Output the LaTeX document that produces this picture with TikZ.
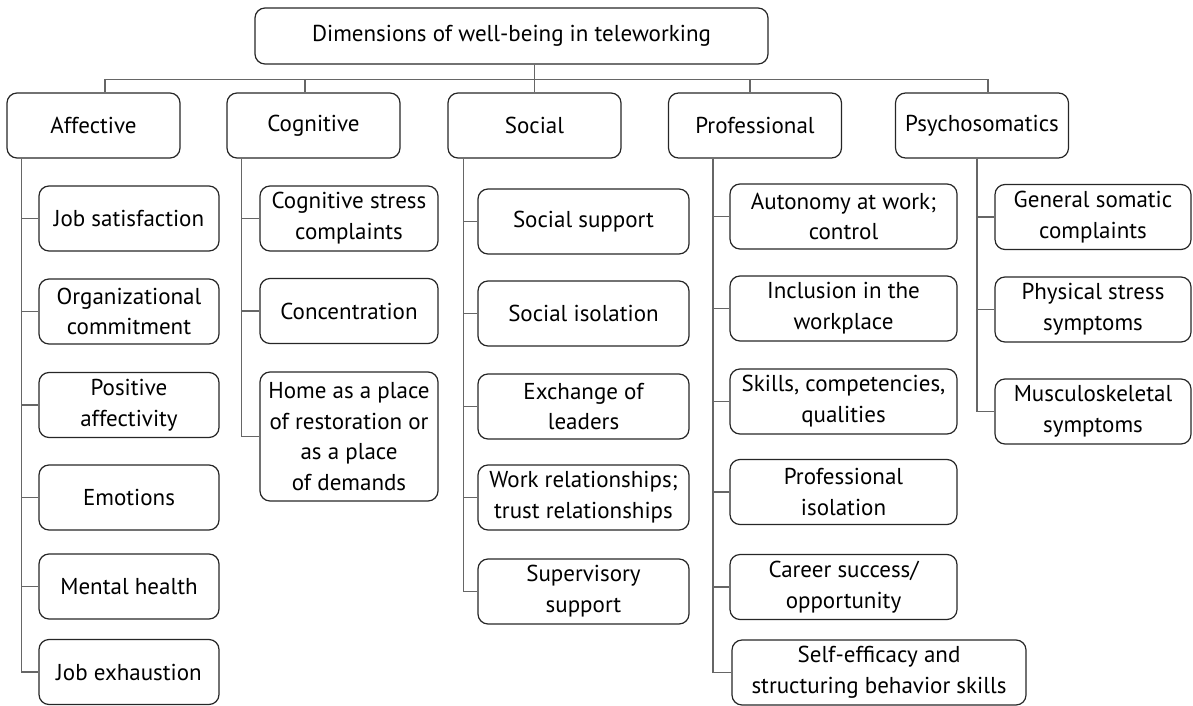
\documentclass[tikz,border=0pt]{standalone}
\usepackage{fontspec}
\setmainfont{PT Sans}

\begin{document}
\begin{tikzpicture}[x=0.5pt,y=-0.5pt,font=\fontsize{11.5}{15.4}\selectfont]
  \tikzstyle{box}=[draw=black!85,rounded corners=5pt,align=center,inner sep=1pt,line width=0.6pt]
  \tikzstyle{dimension}=[box,minimum width=86.5pt,minimum height=32.5pt]
  \tikzstyle{item}=[box,minimum height=32.5pt]
  \tikzstyle{link}=[draw=black!60,line width=0.6pt]

  \useasboundingbox (0,0) rectangle (1193,706);

  % Draw the top node
  \node[box,minimum width=256.5pt,minimum height=28pt] (top) at (511.5,36)
      {Dimensions of well-being in teleworking};

  % Draw the five dimensions
  \foreach \name/\x/\txt in {A/93.5/Affective,C/313.5/Cognitive,S/534.5/Social,
                             P/755/Professional,Y/982/Psychosomatics}
      \node[dimension] (\name) at (\x,125.5) {\txt};

  % Affective items
  \foreach \i/\y/\txt in {1/218.5/{Job satisfaction},2/311.5/{Organizational\\commitment},
                          3/405/{Positive\\affectivity},4/497.5/{Emotions},
                          5/586.5/{Mental health},6/672/{Job exhaustion}}
      \node[item,minimum width=90pt] (A-\i) at (129,\y) {\txt};

  % Cognitive items
  \foreach \i/\y/\txt in {1/218.5/{Cognitive stress\\complaints},2/311/{Concentration}}
      \node[item,minimum width=89pt] (C-\i) at (349,\y) {\txt};
  \node[item,minimum width=89pt,minimum height=64.5pt] (C-3) at (349,436.5)
      {Home as a place\\of restoration or\\as a place\\of demands};

  % Social items
  \foreach \i/\y/\txt in {1/221.5/{Social support},2/313.5/{Social isolation},
                          3/406.5/{Exchange of\\leaders},4/497.5/{Work relationships;\\trust relationships},
                          5/591.5/{Supervisory\\support}}
      \node[item,minimum width=105.5pt] (S-\i) at (583.5,\y) {\txt};

  % Professional items
  \foreach \i/\y/\txt in {1/216.5/{Autonomy at work;\\control},2/308.5/{Inclusion in the\\workplace},
                          3/401.5/{Skills, competencies,\\qualities},4/492/{Professional\\isolation},
                          5/587/{Career success/\\opportunity}}
      \node[item,minimum width=113.5pt] (P-\i) at (843.5,\y) {\txt};
  \node[item,minimum width=147pt] (P-6) at (879,672.5)
      {Self-efficacy and\\structuring behavior skills};

  % Psychosomatic items
  \foreach \i/\y/\txt in {1/217/{General somatic\\complaints},2/309.5/{Physical stress\\symptoms},
                          3/411.5/{Musculoskeletal\\symptoms}}
      \node[item,minimum width=98pt] (Y-\i) at (1093,\y) {\txt};

  % Connect the top node with the dimensions
  \draw[link] ([xshift=5.75pt]A.north) -- ++(0,-13) -| ([xshift=3pt]Y.north);
  \foreach \name/\dx in {C/-4.25pt,P/-2.5pt}
      \draw[link] ([xshift=\dx]\name.north) -- ++(0,-13);
  \draw[link] (top.south -| S.north) -- (S.north);

  % Connect every dimension with its items
  \foreach \name/\dx/\n in {A/15/6,C/15/3,S/16/5,P/45/6,Y/82/3}
      \foreach \i in {1,...,\n}
          \draw[link] (\name.south west) ++(\dx,0) |- (\name-\i.west);
\end{tikzpicture}
\end{document}
